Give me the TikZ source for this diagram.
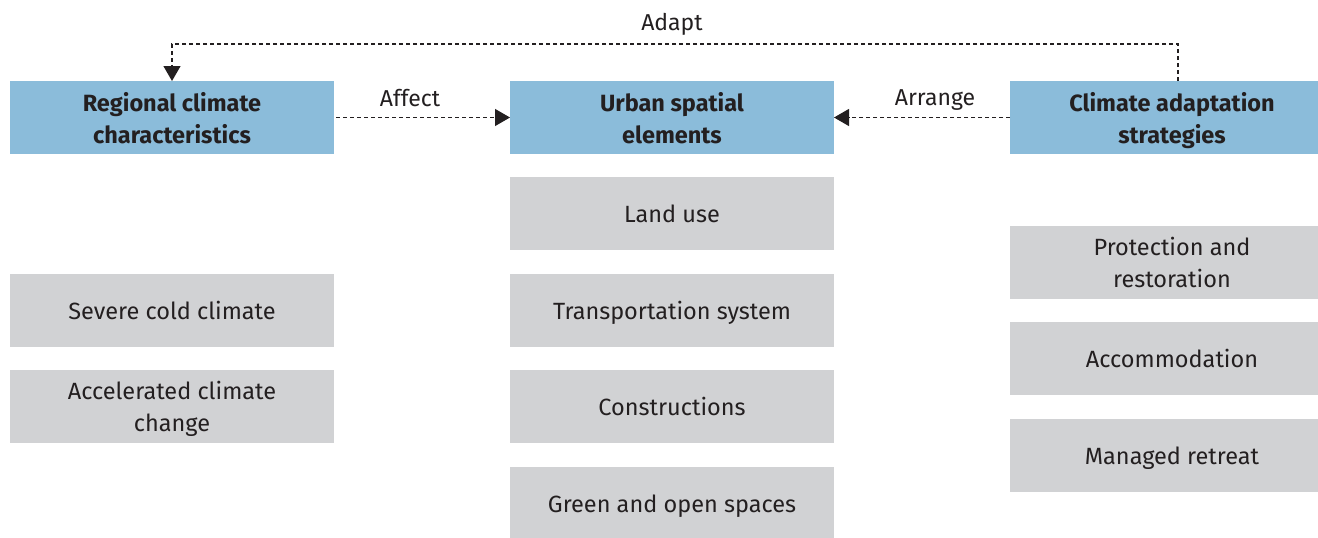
\documentclass[tikz,border=0pt]{standalone}
\usepackage{fontspec}
\setmainfont{Fira Sans}
\usetikzlibrary{arrows.meta}
\definecolor{headblue}{HTML}{8BBCDA}
\definecolor{itemgray}{HTML}{D1D2D4}
\definecolor{inkgray}{HTML}{231F20}
\begin{document}
\begin{tikzpicture}[x=1pt,y=-1pt,
  box/.style={anchor=north west,inner sep=0pt,outer sep=0pt,align=center,
    text depth=0pt,text=inkgray,font=\fontsize{23.5}{32}\selectfont},
  headbox/.style={box,fill=headblue,font=\fontsize{23.5}{32}\selectfont\bfseries},
  itembox/.style={box,fill=itemgray},
  link/.style={draw=inkgray,line width=1.2pt,dash pattern=on 4pt off 3pt,
    -{Triangle[length=15pt,width=17pt]}},
  lbl/.style={text=inkgray,text depth=0pt,font=\fontsize{23}{24}\selectfont,inner sep=0pt}]
\useasboundingbox (0,0) rectangle (1318,538);
\clip (0,0) rectangle (1318,538);
% column headers
\node[headbox,minimum width=324pt,minimum height=73pt] (rc) at (10,81) {Regional climate\\characteristics};
\node[headbox,minimum width=324pt,minimum height=73pt] (us) at (510,81) {Urban spatial\\elements};
\node[headbox,minimum width=324pt,minimum height=73pt] (ca) at (1010,81) {Climate adaptation\\strategies};
% left column
\node[itembox,minimum width=324pt,minimum height=73pt] (sc) at (10,274) {Severe cold climate};
\node[itembox,minimum width=324pt,minimum height=73pt] (acc) at (10,370) {Accelerated climate\\change};
% middle column
\node[itembox,minimum width=324pt,minimum height=73pt] (lu) at (510,177) {Land use};
\node[itembox,minimum width=324pt,minimum height=73pt] (ts) at (510,274) {Transportation system};
\node[itembox,minimum width=324pt,minimum height=73pt] (co) at (510,370) {Constructions};
\node[itembox,minimum width=324pt,minimum height=73pt] (go) at (510,467) {Green and open spaces};
% right column
\node[itembox,minimum width=324pt,minimum height=73pt] (pr) at (1010,226) {Protection and\\restoration};
\node[itembox,minimum width=324pt,minimum height=73pt] (am) at (1010,322) {Accommodation};
\node[itembox,minimum width=324pt,minimum height=73pt] (mr) at (1010,419) {Managed retreat};
% connectors
\draw[link] (rc.east) ++(2,0) -- (us.west);
\draw[link] (ca.west) -- (us.east);
\coordinate (adtop) at (1178,44);
\draw[link] (ca.north -| adtop) -- (adtop) -- (adtop -| 172,0) -- (rc.north -| 172,0);
% labels
\node[lbl] (laff) at (410,98) {Affect};
\node[lbl] (larr) at (935,98) {Arrange};
\node[lbl] (lad) at (672,22) {Adapt};
\end{tikzpicture}
\end{document}
